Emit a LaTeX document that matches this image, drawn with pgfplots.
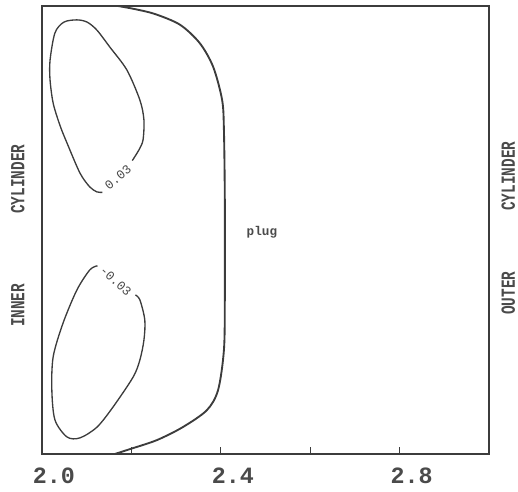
\documentclass[border=0pt]{standalone}
\usepackage{fontspec}
\usepackage{pgfplots}
\pgfplotsset{compat=1.18}
\setmainfont{Liberation Mono}
\newfontfamily\labfont{Liberation Mono}[FakeStretch=0.72]
\definecolor{ink}{HTML}{3C3C3C}
\definecolor{txt}{HTML}{4A4A4A}
\begin{document}
\begin{tikzpicture}
\useasboundingbox (-31.5pt,-28.5pt) rectangle (357pt,340.5pt);
\begin{axis}[
    scale only axis,
    width=335.25pt, height=336pt,
    xmin=2, xmax=3, ymin=0, ymax=1,
    axis line style={line width=1.6pt, ink},
    xtick={2,2.2,2.4,2.6,2.8},
    xticklabels={2.0,,2.4,,2.8},
    xtick pos=bottom,
    xtick align=inside,
    major tick length=5pt,
    tick style={line width=0.8pt, ink},
    ytick=\empty,
    /pgf/number format/assume math mode=true,
    x tick label style={font=\fontsize{17.5}{17.5}\selectfont\bfseries, text=txt, xshift=9pt, yshift=-9pt, inner sep=1pt},
    clip=false,
  ]
  % plug boundary
  \addplot[smooth, ink, line width=1.4pt] coordinates {
    (2.170,1.000) (2.208,0.993) (2.253,0.982) (2.309,0.958) (2.353,0.917)
    (2.383,0.864) (2.403,0.790) (2.407,0.723) (2.409,0.567) (2.409,0.344)
    (2.407,0.232) (2.394,0.143) (2.369,0.098) (2.315,0.060) (2.257,0.031)
    (2.197,0.011) (2.163,0.000)};
  % contour 0.03
  \addplot[smooth, ink, line width=1pt] coordinates {
    (2.202,0.655) (2.217,0.679) (2.226,0.701) (2.228,0.746) (2.219,0.790)
    (2.190,0.857) (2.152,0.908) (2.123,0.946) (2.101,0.964) (2.078,0.969)
    (2.049,0.964) (2.029,0.940) (2.018,0.879) (2.018,0.835) (2.025,0.783)
    (2.040,0.734) (2.056,0.694) (2.085,0.627) (2.107,0.596) (2.123,0.585)
    (2.135,0.584)};
  % contour -0.03
  \addplot[smooth, ink, line width=1pt] coordinates {
    (2.209,0.355) (2.219,0.344) (2.230,0.299) (2.228,0.254) (2.219,0.210)
    (2.204,0.172) (2.159,0.105) (2.123,0.060) (2.085,0.036) (2.056,0.038)
    (2.029,0.076) (2.022,0.143) (2.025,0.217) (2.047,0.292) (2.078,0.366)
    (2.107,0.411) (2.124,0.420)};
  \node[rotate=40, font=\fontsize{9.5}{9.5}\selectfont, text=txt, inner sep=0pt] at (axis cs:2.170,0.618) {0.03};
  \node[rotate=-43, font=\fontsize{9.5}{9.5}\selectfont, text=txt, inner sep=0pt] at (axis cs:2.165,0.386) {-0.03};
  \node[font=\fontsize{9.5}{9.5}\selectfont\bfseries, text=txt] at (axis cs:2.492,0.496) {plug};
  \node[rotate=90, font=\labfont\fontsize{15}{15}\selectfont\bfseries, text=txt] at (rel axis cs:-0.054,0.487) {INNER\hspace{3.5em}CYLINDER};
  \node[rotate=90, font=\labfont\fontsize{15}{15}\selectfont\bfseries, text=txt] at (rel axis cs:1.043,0.504) {OUTER\hspace{3.05em}CYLINDER};
\end{axis}
\end{tikzpicture}
\end{document}
